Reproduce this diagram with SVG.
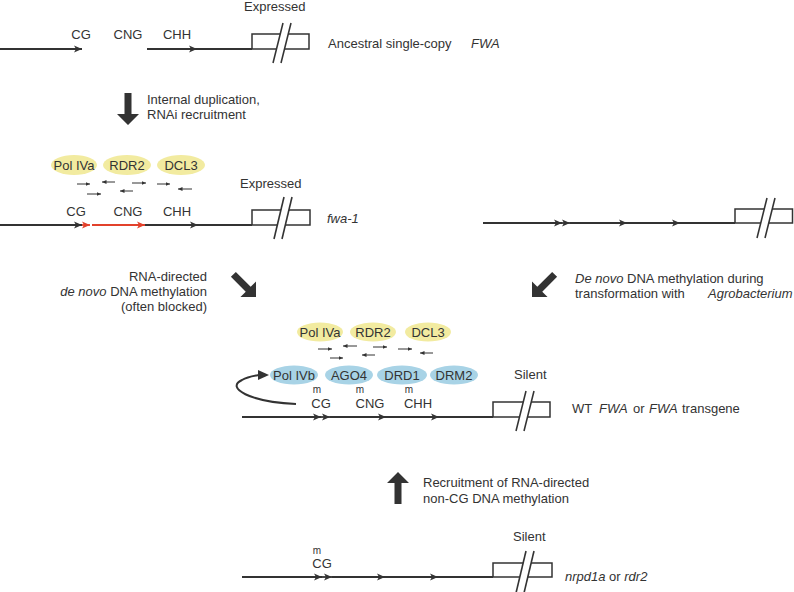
<svg xmlns="http://www.w3.org/2000/svg" width="794" height="592" viewBox="0 0 794 592">
<defs>
<style>
text{font-family:"Liberation Sans",Arial,sans-serif;font-size:13px;fill:#333}
.it{font-style:italic}
.m{font-size:10px}
.mid{text-anchor:middle}
.end{text-anchor:end}
.ln{stroke:#333;stroke-width:1.8;fill:none}
.red{stroke:#e2412b;stroke-width:1.8;fill:none}
.box{stroke:#333;stroke-width:1.5;fill:#fff}
.gap{fill:#fff;stroke:none}
.sl{stroke:#333;stroke-width:1.6}
.sm{stroke:#333;stroke-width:1;fill:none}
.yel{fill:#f2eba0}
.blu{fill:#a8d3e6}
.big{fill:#333}
</style>
<marker id="ah" markerUnits="userSpaceOnUse" viewBox="0 0 9 9" markerWidth="9" markerHeight="9" refX="8" refY="4.5" orient="auto"><path d="M0,1 L8,4.5 L0,8 L2,4.5 Z" fill="#333"/></marker>
<marker id="ahr" markerUnits="userSpaceOnUse" viewBox="0 0 9 9" markerWidth="9" markerHeight="9" refX="8" refY="4.5" orient="auto"><path d="M0,1 L8,4.5 L0,8 L2,4.5 Z" fill="#e2412b"/></marker>
<marker id="sa" markerUnits="userSpaceOnUse" viewBox="0 0 5 5" markerWidth="5" markerHeight="5" refX="4.5" refY="2.5" orient="auto"><path d="M0,0.5 L4.5,2.5 L0,4.5 Z" fill="#333"/></marker>
<path id="thick" d="M-32,-3.5 H-11 V-11 L0,0 L-11,11 V3.5 H-32 Z"/>
</defs>

<g id="ancestral">
<text x="244" y="11">Expressed</text>
<text class="mid" x="81" y="39">CG</text>
<text class="mid" x="128" y="39">CNG</text>
<text class="mid" x="177" y="39">CHH</text>
<path class="ln" d="M0,49 H82" marker-end="url(#ah)"/>
<path class="ln" d="M147,49 H197" marker-end="url(#ah)"/>
<path class="ln" d="M197,49 H252"/>
<rect class="box" x="252" y="34" width="57" height="15"/>
<polygon class="gap" points="280.75,32 288.75,32 284,51 276,51"/>
<line class="sl" x1="273" y1="63" x2="283" y2="23"/>
<line class="sl" x1="281" y1="63" x2="291" y2="23"/>
<text x="328" y="48">Ancestral single-copy <tspan class="it" x="471">FWA</tspan></text>
</g>

<g id="fwa1">
<g id="fwa1-rnai">
<ellipse class="yel" cx="74" cy="165" rx="23" ry="10"/>
<ellipse class="yel" cx="127" cy="165" rx="24" ry="10"/>
<ellipse class="yel" cx="181" cy="165" rx="24" ry="10"/>
<text class="mid" x="74" y="170">Pol IVa</text>
<text class="mid" x="127" y="170">RDR2</text>
<text class="mid" x="181" y="170">DCL3</text>
<path class="sm" d="M77,184 H90" marker-end="url(#sa)"/>
<path class="sm" d="M115,182 H102" marker-end="url(#sa)"/>
<path class="sm" d="M132,183 H146" marker-end="url(#sa)"/>
<path class="sm" d="M157,184 H170" marker-end="url(#sa)"/>
<path class="sm" d="M192,189 H178" marker-end="url(#sa)"/>
<path class="sm" d="M87,194 H101" marker-end="url(#sa)"/>
<path class="sm" d="M133,191 H120" marker-end="url(#sa)"/>
</g>
<text x="240" y="188">Expressed</text>
<text class="mid" x="76" y="216">CG</text>
<text class="mid" x="128" y="216">CNG</text>
<text class="mid" x="177" y="216">CHH</text>
<path class="ln" d="M0,225 H82" marker-end="url(#ah)"/>
<path class="red" d="M82,225 H90" marker-end="url(#ahr)"/>
<path class="red" d="M92,225 H145" marker-end="url(#ahr)"/>
<path class="ln" d="M145,225 H198" marker-end="url(#ah)"/>
<path class="ln" d="M198,225 H252"/>
<rect class="box" x="252" y="210" width="58" height="15"/>
<polygon class="gap" points="281.4,208 289.4,208 284.9,227 276.9,227"/>
<line class="sl" x1="274" y1="239" x2="284" y2="197"/>
<line class="sl" x1="282" y1="239" x2="292" y2="197"/>
<text class="it" x="327" y="223">fwa-1</text>
</g>

<g id="transgene-unmethylated">
<path class="ln" d="M483,223 H562" marker-end="url(#ah)"/>
<path class="ln" d="M562,223 H570" marker-end="url(#ah)"/>
<path class="ln" d="M570,223 H627" marker-end="url(#ah)"/>
<path class="ln" d="M627,223 H680" marker-end="url(#ah)"/>
<path class="ln" d="M680,223 H735"/>
<rect class="box" x="735" y="209" width="57.5" height="14"/>
<polygon class="gap" points="764.5,207 772.5,207 768.25,225 760.25,225"/>
<line class="sl" x1="757" y1="238" x2="767" y2="198"/>
<line class="sl" x1="765" y1="238" x2="775" y2="198"/>
</g>

<g id="wt-silent">
<g id="wt-rnai">
<ellipse class="yel" cx="320" cy="332" rx="23" ry="9.5"/>
<ellipse class="yel" cx="373" cy="332" rx="23" ry="9.5"/>
<ellipse class="yel" cx="428" cy="332" rx="23" ry="9.5"/>
<text class="mid" x="320" y="336.5">Pol IVa</text>
<text class="mid" x="373" y="336.5">RDR2</text>
<text class="mid" x="428" y="336.5">DCL3</text>
<path class="sm" d="M318,349 H332" marker-end="url(#sa)"/>
<path class="sm" d="M357,346 H343" marker-end="url(#sa)"/>
<path class="sm" d="M373,347 H387" marker-end="url(#sa)"/>
<path class="sm" d="M398,349 H412" marker-end="url(#sa)"/>
<path class="sm" d="M375,355 H362" marker-end="url(#sa)"/>
<path class="sm" d="M433,353 H420" marker-end="url(#sa)"/>
<path class="sm" d="M330,358 H343" marker-end="url(#sa)"/>
</g>
<g id="wt-rddm">
<ellipse class="blu" cx="294" cy="375" rx="24" ry="9.5"/>
<ellipse class="blu" cx="349" cy="375" rx="24" ry="9.5"/>
<ellipse class="blu" cx="402" cy="375" rx="25" ry="9.5"/>
<ellipse class="blu" cx="454" cy="375" rx="24" ry="9.5"/>
<text class="mid" x="294" y="380">Pol IVb</text>
<text class="mid" x="349" y="380">AGO4</text>
<text class="mid" x="402" y="380">DRD1</text>
<text class="mid" x="454" y="380">DRM2</text>
</g>
<text x="514" y="379">Silent</text>
<text class="m mid" x="317" y="393">m</text>
<text class="m mid" x="360" y="393">m</text>
<text class="m mid" x="409" y="393">m</text>
<text class="mid" x="321" y="408">CG</text>
<text class="mid" x="370" y="408">CNG</text>
<text class="mid" x="418" y="408">CHH</text>
<path class="ln" d="M242,417 H321" marker-end="url(#ah)"/>
<path class="ln" d="M321,417 H330" marker-end="url(#ah)"/>
<path class="ln" d="M330,417 H386" marker-end="url(#ah)"/>
<path class="ln" d="M386,417 H439" marker-end="url(#ah)"/>
<path class="ln" d="M439,417 H493"/>
<rect class="box" x="493" y="402" width="57" height="15"/>
<polygon class="gap" points="523.75,400 531.75,400 527,419 519,419"/>
<line class="sl" x1="516" y1="431" x2="526" y2="391"/>
<line class="sl" x1="524" y1="431" x2="534" y2="391"/>
<text x="572" y="413">WT <tspan class="it" x="599">FWA</tspan> <tspan x="633">or</tspan> <tspan class="it" x="649">FWA</tspan> <tspan x="682">transgene</tspan></text>
</g>

<g id="mutant">
<text x="513" y="541">Silent</text>
<text class="m mid" x="317" y="554">m</text>
<text class="mid" x="322" y="568">CG</text>
<path class="ln" d="M242,577 H322" marker-end="url(#ah)"/>
<path class="ln" d="M322,577 H332" marker-end="url(#ah)"/>
<path class="ln" d="M332,577 H385" marker-end="url(#ah)"/>
<path class="ln" d="M385,577 H438" marker-end="url(#ah)"/>
<path class="ln" d="M438,577 H493"/>
<rect class="box" x="493" y="563" width="59" height="14"/>
<polygon class="gap" points="523.6,561 531.6,561 527.2,579 519.2,579"/>
<line class="sl" x1="516" y1="593" x2="526" y2="551"/>
<line class="sl" x1="524" y1="593" x2="534" y2="551"/>
<text x="565" y="581"><tspan class="it">nrpd1a</tspan> or <tspan class="it">rdr2</tspan></text>
</g>

<g id="connectors">
<use href="#thick" class="big" transform="translate(128,125) rotate(90)"/>
<text x="147" y="104">Internal duplication,</text>
<text x="147" y="119">RNAi recruitment</text>
<use href="#thick" class="big" transform="translate(256,297) rotate(45)"/>
<text class="end" x="207" y="281">RNA-directed</text>
<text class="end" x="207" y="296"><tspan class="it">de novo</tspan> DNA methylation</text>
<text class="end" x="207" y="311">(often blocked)</text>
<use href="#thick" class="big" transform="translate(532,297) rotate(135)"/>
<text x="575" y="283"><tspan class="it">De novo</tspan> DNA methylation during</text>
<text x="575" y="298">transformation with <tspan class="it" x="708">Agrobacterium</tspan></text>
<use href="#thick" class="big" transform="translate(398,472) rotate(-90)"/>
<text x="423" y="487">Recruitment of RNA-directed</text>
<text x="423" y="503">non-CG DNA methylation</text>
<path d="M296,404 C250,402 225,388 242,380 C247,377 252,376 259,375" fill="none" stroke="#333" stroke-width="2"/>
<path d="M258,370 L269,375 L258,380 Z" fill="#333"/>
</g>
</svg>
